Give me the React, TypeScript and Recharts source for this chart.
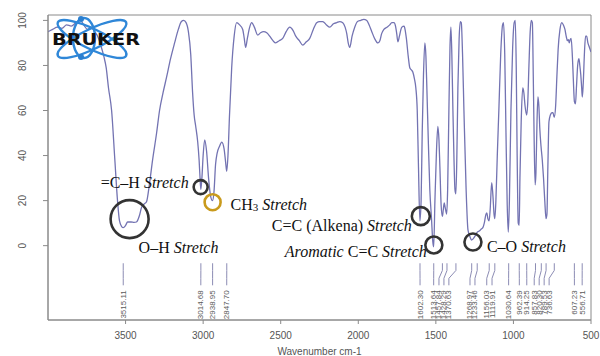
import React from 'react';
import {
  ComposedChart,
  Line,
  Scatter,
  XAxis,
  YAxis,
  ReferenceLine,
  ReferenceDot,
  ReferenceArea,
} from 'recharts';

// FTIR spectrum (wavenumber cm-1 -> % transmittance)
const wavenumbers = [
  4000, 3970, 3940, 3910, 3880, 3850, 3820, 3790, 3770, 3745, 3720, 3700, 3680, 3660, 3640, 3625,
  3610, 3590, 3570, 3552, 3539, 3525, 3515, 3500, 3487, 3465, 3445, 3430, 3410, 3397, 3380, 3365,
  3345, 3326, 3300, 3281, 3258, 3235, 3210, 3184, 3160, 3140, 3125, 3110, 3095, 3080, 3068, 3058,
  3048, 3035, 3026, 3020, 3015, 3008, 3000, 2990, 2978, 2965, 2952, 2940, 2930, 2920, 2910, 2895,
  2880, 2865, 2855, 2848, 2840, 2830, 2816, 2800, 2784, 2765, 2745, 2735, 2726, 2715, 2700, 2687,
  2670, 2648, 2630, 2610, 2590, 2571, 2550, 2532, 2510, 2487, 2465, 2442, 2420, 2403, 2380, 2358,
  2335, 2313, 2290, 2268, 2250, 2229, 2205, 2184, 2160, 2139, 2120, 2100, 2085, 2074, 2065, 2055,
  2040, 2023, 2005, 1984, 1965, 1945, 1930, 1913, 1895, 1874, 1861, 1850, 1835, 1815, 1797, 1784,
  1770, 1760, 1752, 1745, 1735, 1725, 1719, 1705, 1700, 1690, 1678, 1668, 1658, 1648, 1638, 1629,
  1620, 1612, 1603, 1595, 1588, 1580, 1571, 1564, 1558, 1548, 1539, 1528, 1520, 1514, 1506, 1496,
  1487, 1480, 1474, 1466, 1458, 1452, 1446, 1440, 1430, 1424, 1416, 1409, 1403, 1397, 1390, 1383,
  1377, 1371, 1365, 1358, 1350, 1342, 1336, 1328, 1319, 1305, 1293, 1280, 1270, 1260, 1245, 1233,
  1220, 1205, 1197, 1188, 1177, 1171, 1165, 1157, 1150, 1140, 1132, 1125, 1120, 1113, 1104, 1094,
  1082, 1070, 1064, 1056, 1048, 1040, 1033, 1026, 1016, 1005, 995, 988, 982, 976, 969, 963,
  958, 950, 940, 933, 925, 915, 908, 900, 892, 885, 878, 872, 866, 860, 855, 848,
  842, 836, 830, 822, 814, 806, 798, 790, 784, 778, 771, 762, 752, 745, 737, 728,
  720, 712, 700, 688, 678, 668, 660, 652, 646, 640, 634, 628, 620, 614, 607, 600,
  594, 586, 578, 572, 566, 560, 556, 550, 542, 535, 528, 520, 510, 500,
];

const transmittance = [
  95, 96, 97, 96.5, 98, 97.5, 99, 100, 98, 96, 97, 95, 93, 89, 84, 79,
  70, 60, 39, 20, 11, 8.5, 8, 9, 10.5, 10.5, 10.3, 10.5, 13.5, 17, 18.5, 19.5,
  28, 38, 50, 60, 68, 75, 83, 90, 96, 99.5, 100, 99, 95, 85, 68, 58,
  53, 46, 38, 30, 25, 30, 40, 47, 42, 30, 22, 20, 24, 36, 41, 44,
  46, 43, 37, 33, 40, 58, 79, 93, 99, 98, 96, 92, 88, 92, 97, 99,
  97, 93.5, 94.5, 95, 94.5, 93, 91, 90, 91, 92, 95, 97, 95.5, 93, 91, 89,
  90.5, 92, 96, 99, 99.5, 99.5, 98, 97, 98.5, 99, 99.5, 99, 97, 94, 90, 88,
  93, 97, 99.5, 100, 100.5, 100, 98, 95, 92, 90, 91, 94, 96, 97, 98, 99,
  99, 97.5, 94, 90.5, 93, 96, 97, 97.5, 96.5, 92, 84, 79, 78, 77, 74, 70,
  60, 35, 11, 20, 50, 75, 90, 84, 70, 45, 25, 12, 2, -0.5, 20, 42,
  53, 47, 35, 18, 13, 16, 19, 17, 14, 25, 60, 88, 97, 85, 60, 38,
  25, 23, 38, 70, 92, 99.5, 99, 85, 60, 25, 7, 4, 2.5, 3, 4.5, 6,
  6.5, 7.5, 8, 10, 14, 14.5, 12, 11, 16, 28, 22, 14, 12, 20, 40, 60,
  85, 98, 99, 85, 50, 18, 6, 20, 60, 88, 99, 100, 80, 40, 10, 9,
  30, 55, 70, 68, 62, 58, 63, 80, 95, 100, 99, 75, 45, 27, 32, 55,
  66, 62, 52, 44, 38, 30, 20, 12, 14, 35, 55, 58, 59, 59, 57, 62,
  75, 87, 96, 99, 98, 96, 93, 91, 91.5, 90, 91.5, 92, 84, 74, 64, 63,
  70, 80, 83, 80, 76, 70, 66, 72, 86, 93, 93, 90, 88, 86,
];

// peak picking table printed under the spectrum
const peakWavenumbers = [
  3515.11, 3014.68, 2938.95, 2847.7, 1602.3, 1513.64, 1457.84, 1428.29, 1370.63, 1268.97, 1233.46,
  1156.03, 1119.91, 1030.64, 962.39, 914.25, 857.83, 820.3, 789.53, 736.63, 607.23, 556.71,
];
// where each rotated label ends up after spreading crowded peaks apart
const peakLabelAt = [
  3515, 3015, 2939, 2848, 1602, 1514, 1480, 1448, 1416, 1280, 1248,
  1172, 1138, 1031, 962, 914, 866, 834, 802, 770, 607, 557,
];

const xTicks = [3500, 3000, 2500, 2000, 1500, 1000, 500];
const yTicks = [0, 20, 40, 60, 80, 100];

// band assignments circled on the spectrum
const bandNames = ['O–H', '=C–H', 'CH3', 'C=C (Alkena)', 'Aromatic C=C', 'C–O'];
const bandWavenumbers = [3474, 3016, 2939, 1597, 1513, 1261];
const bandTransmittance = [11.8, 26, 19.3, 13.1, 0.3, 1.6];

const spectrum = wavenumbers.map((wn, i) => ({ wn, t: transmittance[i] }));
const peakLabels = peakWavenumbers.map((p, i) => ({ wn: peakLabelAt[i], t: -19.8, text: p.toFixed(2) }));
const bands = bandNames.map((name, i) => ({ name, wn: bandWavenumbers[i], t: bandTransmittance[i] }));

// circle radius / colour and text offset (px) for each band annotation
const bandStyle = [
  { r: 19, color: '#333', dx: 9, dy: 34, anchor: 'start' },
  { r: 7, color: '#333', dx: -12, dy: 1, anchor: 'end' },
  { r: 8, color: '#c99a1c', dx: 18, dy: 8, anchor: 'start' },
  { r: 9, color: '#333', dx: -9, dy: 15, anchor: 'end' },
  { r: 8.5, color: '#333', dx: -7, dy: 12, anchor: 'end' },
  { r: 8.5, color: '#333', dx: 14, dy: 10, anchor: 'start' },
];

const X_MIN = 500;
const X_MAX = 4000;
const Y_MIN = -33;
const Y_MAX = 102.4;

const LINE_TOP = -7.8;
const BEND_START = -11;
const BEND_END = -14.5;
const LINE_BOTTOM = -17.6;

const serif = '"Liberation Serif", "Times New Roman", serif';
const sans = '"Liberation Sans", Arial, sans-serif';

const BandText = (props: any) => {
  const { cx, cy, index, payload } = props;
  const st = bandStyle[index];
  const x = cx + st.dx;
  const y = cy + st.dy;
  const name: string = payload.name;
  let body: React.ReactNode;
  if (name === 'CH3') {
    body = (
      <>
        <tspan>CH</tspan>
        <tspan fontSize={11} dy={1}>3</tspan>
        <tspan dy={-1}> </tspan>
        <tspan fontStyle="italic">Stretch</tspan>
      </>
    );
  } else if (name === 'Aromatic C=C') {
    body = (
      <>
        <tspan fontStyle="italic">Aromatic</tspan>
        <tspan> C=C </tspan>
        <tspan fontStyle="italic">Stretch</tspan>
      </>
    );
  } else {
    body = (
      <>
        <tspan>{name} </tspan>
        <tspan fontStyle="italic">Stretch</tspan>
      </>
    );
  }
  return (
    <text x={x} y={y} textAnchor={st.anchor} fontFamily={serif} fontSize={16} fill="#111">
      {body}
    </text>
  );
};

const PeakLabel = (props: any) => {
  const { cx, cy, payload } = props;
  return (
    <text
      x={cx}
      y={cy}
      transform={`rotate(-90, ${cx}, ${cy})`}
      textAnchor="end"
      dominantBaseline="central"
      fontFamily={sans}
      fontSize={8}
      fill="#5a5a5a"
    >
      {payload.text}
    </text>
  );
};

const YTick = (props: any) => {
  const { x, y, payload } = props;
  const cx = x - 20;
  return (
    <text
      x={cx}
      y={y}
      transform={`rotate(-90, ${cx}, ${y})`}
      textAnchor="middle"
      dominantBaseline="central"
      fontFamily={sans}
      fontSize={10}
      fill="#555"
    >
      {payload.value}
    </text>
  );
};

const BrukerLogo = () => (
  <svg
    width={160}
    height={80}
    style={{ position: 'absolute', left: 0, top: 0, pointerEvents: 'none' }}
  >
    <g fill="none" stroke="#2f87d8" strokeWidth={2.4}>
      <ellipse cx={92} cy={39} rx={38} ry={10} transform="rotate(-26, 92, 39)" />
      <ellipse cx={92} cy={39} rx={38} ry={10} transform="rotate(26, 92, 39)" />
      <ellipse cx={84} cy={38} rx={20} ry={11} transform="rotate(90, 84, 38)" />
    </g>
    <circle cx={81} cy={19} r={3} fill="#2b7fd0" />
    <circle cx={81} cy={57} r={3} fill="#2b7fd0" />
    <text
      x={52}
      y={45}
      fontFamily='"DejaVu Sans", sans-serif'
      fontWeight={900}
      fontSize={16}
      textLength={88}
      lengthAdjust="spacingAndGlyphs"
      fill="#111"
    >
      BRUKER
    </text>
  </svg>
);

export default function App() {
  return (
    <div style={{ position: 'absolute', left: 0, top: 0, width: 600, height: 356, background: '#fff' }}>
      <ComposedChart
        width={600}
        height={356}
        data={spectrum}
        margin={{ top: 15, right: 9, bottom: 0, left: 0 }}
      >
        <XAxis
          dataKey="wn"
          type="number"
          domain={[X_MIN, X_MAX]}
          reversed
          allowDataOverflow
          ticks={xTicks}
          tickSize={4}
          tickMargin={8}
          height={36}
          stroke="#8a8a8a"
          tick={{ fontSize: 10, fill: '#555', fontFamily: sans }}
          label={{ value: 'Wavenumber cm-1', position: 'insideBottom', offset: 1, fontSize: 10, fill: '#555', fontFamily: sans }}
        />
        <YAxis
          type="number"
          domain={[Y_MIN, Y_MAX]}
          allowDataOverflow
          ticks={yTicks}
          width={48}
          tickSize={5}
          tickMargin={0}
          stroke="#8a8a8a"
          tick={<YTick />}
        />
        <ReferenceArea
          x1={X_MAX}
          x2={X_MIN}
          y1={Y_MIN}
          y2={Y_MAX}
          fill="none"
          stroke="#8a8a8a"
          strokeWidth={1}
          ifOverflow="visible"
        />

        {peakWavenumbers.map((p, i) => {
          const q = peakLabelAt[i];
          return (
            <React.Fragment key={p}>
              <ReferenceLine
                segment={[{ x: p, y: LINE_TOP }, { x: p, y: BEND_START }]}
                stroke="#8c8cb4"
                ifOverflow="visible"
              />
              <ReferenceLine
                segment={[{ x: p, y: BEND_START }, { x: q, y: BEND_END }]}
                stroke="#8c8cb4"
                ifOverflow="visible"
              />
              <ReferenceLine
                segment={[{ x: q, y: BEND_END }, { x: q, y: LINE_BOTTOM }]}
                stroke="#8c8cb4"
                ifOverflow="visible"
              />
            </React.Fragment>
          );
        })}

        <Line
          type="monotone"
          dataKey="t"
          stroke="#7373b2"
          strokeWidth={1.3}
          dot={false}
          isAnimationActive={false}
        />

        {bands.map((b, i) => (
          <ReferenceDot
            key={b.name}
            x={b.wn}
            y={b.t}
            r={bandStyle[i].r}
            fill="none"
            stroke={bandStyle[i].color}
            strokeWidth={2.6}
            ifOverflow="visible"
          />
        ))}

        <Scatter data={peakLabels} dataKey="t" shape={<PeakLabel />} isAnimationActive={false} />
        <Scatter data={bands} dataKey="t" shape={<BandText />} isAnimationActive={false} />
      </ComposedChart>
      <BrukerLogo />
    </div>
  );
}
